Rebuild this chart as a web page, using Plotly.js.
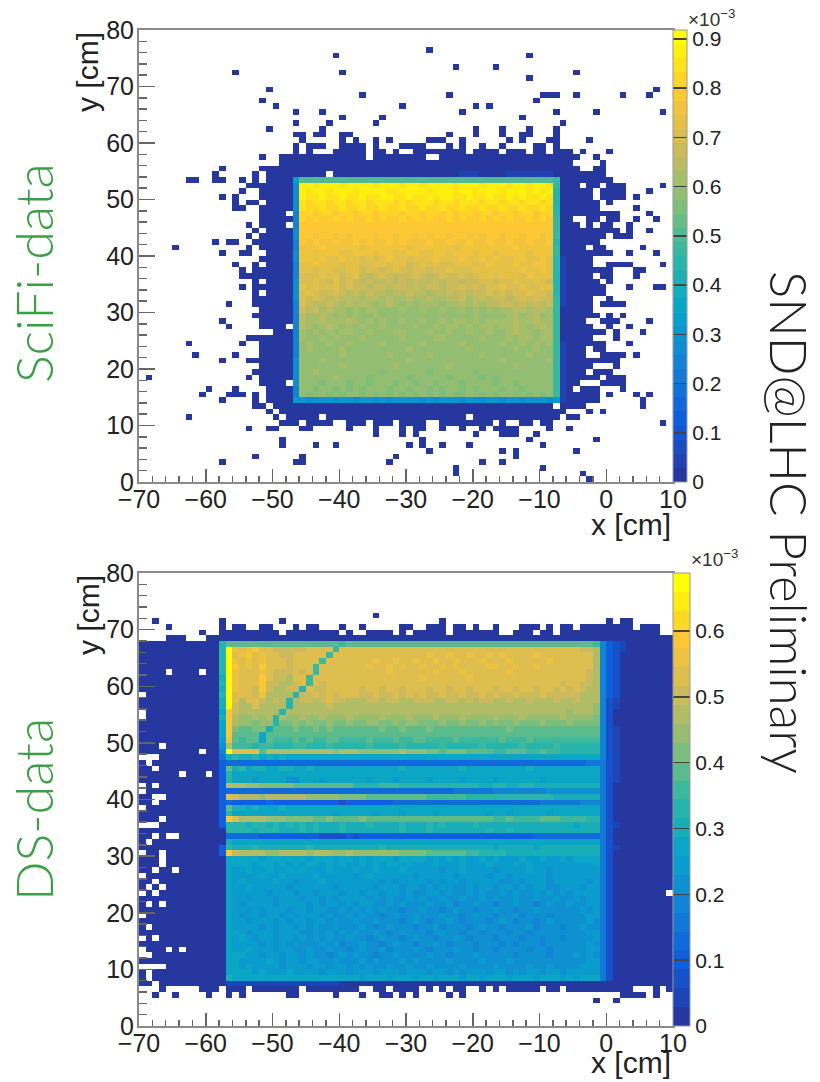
<!DOCTYPE html>
<html><head><meta charset="utf-8">
<script src="https://cdn.plot.ly/plotly-3.0.1.min.js"></script>
<style>html,body{margin:0;padding:0;background:#fff}#plot{width:820px;height:1082px}</style>
</head><body><div id="plot"></div>
<script>
// ---------- values ----------
const xTickValues=[-70,-60,-50,-40,-30,-20,-10,0,10];
const yTickValues=[0,10,20,30,40,50,60,70,80];
const scifiMax=0.918, dsMax=0.688;          // colour-bar tops (x10^-3)
const lowCount=0.01;                        // the lowest, dark blue, occupied bins
const scifiStep=0.025, dsStep=0.02;         // value of one base-36 code in the rows below

// SciFi: occupied low bins, one entry per row of bins from y=80 downward, as column numbers (0 = x -70..-69)
const scifiLow=["","","","43","29 58","","47 53","14 30 65","58","","19 77","33 46 60-62 65 72 76","18 59","20 39 50 52",
"23 27 48 62 68 78","30 36 57","23 28 35 63","19 27 50 54 58 62","23-24 26-27 30-31 46 50 54 57-58 62",
"24 30 32 35 37 43-45 48 55 57 61-62 67","23 25-27 30-33 35 39-42 46 48 51 54 59-60 62",
"23 25 29-33 35-36 38 41-48 50-53 55-57 59-60 62-64 66 70","18 21-33 35-42 45-65 68","21-64 69","12 18-65 68-69",
"11 17 19-27 29-69","7-8 11-12 15 17 19-70","16-65 67-68 70-72 78","15 18-67 69-72 76","12 14 18-67 69-72 74",
"14 16-17 19-68 70","14-15 18-68 74","18-21 23-71 76","18-64 67-68 70-71 74 77","16 18-21 23-65 67 69-70 73",
"17 19-71 73 76","16 18-69 71-73","11 13-14 17-68","5 16 18-66 68-69 75","12 15-16 19-70 73 77","18-67",
"14 17 19-67 70-73 78","15 17-70 74-75","15-67 69-70 74","17 19-68 70","15 17-69 73 77-78","17 19-69","17-67 70",
"13 17-67 69-72","18-67","17-68 70 72","12 18-66 69-71 76","13 18-21 23-67 70 73","20-69 71 75","16-67 71",
"7 15 18-69 73","18-66 68-69","8 14 18-66 69-72 74","12 16-71","18-67 71","17-66 68-70","1 16 18-68 70-72",
"18-21 23-65 69-72","10 14 19-64 66-68 72","9 13-15 17 19-68 70 74 76","12 17 19-68 75","17-18 20-61 63-66 75",
"19 21-63 67 69","7 20 22-26 28-48 50-62 64-65","21-23 25-28 31-33 35-37 39-42 45-52 54 57-58 60-61 78",
"16 19-20 24-25 31 35 39 41-42 45 48 51 53-56 61 64","35 39 41 50 54-56 59","21 42 58 68","21 26 29 40 42 45 49 60",
"43 54 56 65","17 24 38 56","12 23-24 37 51 54","47 60","47 66","67"];
// SciFi: slightly lighter blue bins hugging the box (row:columns)
const scifiHalo=["25:48-50","25:55-61","40:63","41:63","42:63","43:63","44:63","45:63","46:63","47:63","48:63",
"55:63","56:63","57:63","58:63","59:63","60:63","61:63","62:63","63:63","64:63","65:63"];
// SciFi: the detector box, rows 26..65 from the top, columns 23..62
const scifiBox=[
"dkkkkkkkkk kkkkkkkkkk kkkkkkkkkk kkkkkkkkkj","bzzyzzzyzz zzyzzzyzzy zzzzyzzzyz zzyzzyzzyj","bzyzzyzzzy zzzzyyzzzz yzzzyzzyzz zyzzzyzyzi",
"bzyyzyyzyy zyyzzyyzyy zyzzyyzyyz yyzyzyyzyi","byxyyxyyxy yxyyyxyxyy yxyyxyyyxy yxyyxyyxyi","byxxyxxyxx yxxyxxyxxy xxyxxyxxyx xyxxyxxyxi",
"axxwxxwxxw xxwxxxwxxw xxwxwxxwxx wxxwxxwxxi","axwxwwxwxw wxwxwwxwxw xwwxwxwwxw xwxwwxwxwj","awwvwwvwwv wwwvwvwwvw wvwwvwwvwv wwvwwvwwvj",
"bvwvvwvvwv vwvwvvwvvw vvwvwvvwvv wvvwvwvwvj","bvvuvvuvuv vvuvvuvvuv uvvuvvuvuv vuvvuvvuvj","avuvuuvuuv uvuuvuvuuu vuuvuuvuuv uuvuuvuuvi",
"auuuvuuuuu tuuuuuutuu uuuutuuuuu uuuvuuuuuj","buutuuuttu uutuuttuut tuutuuutuu tuuuutuuuj","buututtutt ststuttstt tutttuttut uttuuttuti",
"attutttstt ssttsttrst stsstttstu tttuttuuti","attsttsstt rssrstsrss rsstsssttt ttttuttuti","assststrst rqrsrqrrsr qrsrrsrstt stttsuttti",
"bsstsrtrsr qrqqrqrqrq qrqrrqrrss rsstsstsri",
"btstsstrsr rqrrqrrqrq rrqrrsrsrs stsstsstti","bstsrrsrqr qrqqpqqrqq pqqrqrqrrs rsrsstssri","bsrsrqrqqq pqqpqppqpp qppqqrpqrq rrqrsrsrrj",
"asrqqrqpqp qpopqpopop ppoppqpqpq qrrqrqrqrj","arqrpqppop oppooopoop oopoopopop oppqqpqqpj","aqppqpopop oopoonooon onoonoopoo oopqopqopj",
"aqppqpppqp opopoopoop oopoppopop pppqppqppj","aqpopqpopo poopoooopo opoppopopp oppqpopqpj","apopopoppo opooopp ooo poopoopoop oopqppoppj",
"apoopopooo poonoopooo oppoonoopo oopoppoppj","aopoopoopo onopoonoop oonoopoono opoopopopj","aopononpon oonooonpon ooonoopono onopoopooj",
"aonoonopoo nonopnnono pnonoonopo oonoopoooj","boonpnoono onnonoopon nonoonooon opoonooopj","bonononpon onnonpnonn onopnonoon oonponoooj",
"bonponnono nonmnonnon mnonnonmno nononoonoj","bnononpnon nmnononmnn onomnonomn mnonononoj","bnonmnonmn omnnomnomn nmnonmnonn mnomnonnnj",
"annmnomnmn mnonmnnmon mnmnomnmnn omnnmnnonj","anmnnmnmno mnmnmomnmn mnmnmmnomn mnnmomnmnj",
"ccbcccbccb ccbcbccccb cbcccbccbc cbccbcccbc"];

// DS: low bins outside the solid block (row:columns)
const dsLow=["7:35","8:2 12 21 45 70 72-73",
"9:4 12 14-15 18-19 23 25-26 30 33 39-40 43-45 47-48 50 53 57-59 61 63-64 66-73 75-77",
"10:9 12-20 22-29 31 34-37 39 41-45 47-53 56-58 60-61 63-77","11:4-6 10-79","72:0-1 3-79",
"73:3 9-11 13-15 17-23 25-32 35-36 38-41 43 45 47-48 51 53 55-59 61-62 64-73 77 79",
"74:2 5 10 13 15 22-23 29 33 36-37 39 41 46 48 72-75 77","75:68 71"];
// DS: empty bins inside the solid block, rows 12..71 (row:columns)
const dsHoles=["17:4 9","21:0","24:0","25:0","30:3","31:9","32:0-2","33:1","34:2","35:6 10","37:0 2","38:0","39:2-3","40:2","41:0",
"43:3","44:0-2","46:2 4-5","47:1","49:0 3","50:3","51:3","52:2 5","53:0","54:2","55:1 3","56:0 2 79","58:1 3","60:0","62:1",
"64:0 2","66:0 4 6","67:0-1","69:0-3","70:1","71:1"];
// DS: slightly lighter blue bins under the box
const dsHalo=["72:13-29"];
// DS: the box, rows 12..71 from the top, columns 13..68
const dsBox=[
"kkjkkjkkjk jkkjjjkijj jjkkjkkjjk kjkjjkkjkk jkjjkkjkkj kjjkji","ysrstrqppp ppqqrqiqqq qqqrqqrqqq rqrqrrrqqr qqrqrqqqrq qqqppo",
"yrstrsqqpp qqrqqiqrrq rqrrrqrrqr srrsrrsrrs rsrqrrsrqr rqrrqo","zsrsrsqqqp qrqriqrrqq rrsrrsrrsr rsrrsrrrsr rrsrrqrrsr qrrqro",
"ztrsrtqqqp qqqiqrqrrq rsrrsrsrrs rrsrsrrrrs srrsrrsrrr rqrrqo","zsrrqsqppp qpqiqqrqqr rqrrsrrrrr rsrrrsrrrr qrsrrrqrrq rqqrpn",
"zsrrqtqppo qqiqqrqqrq qrrqrrqrrs rrqrrrsrqr rqrqrrqrqr qqrqpn","zsqrqtppoo pqiqpqqrqq qrqqrqqqrq qrqqrrqqqr qqrqqrqqqq pqqppn",
"ysqqptpoop phqppqqqqq pqqpqqpqqq pqqpqqpqqq pqqpqqpqqp qpqpon","yrqqpsoonn hppqpqpqqq ppqppqpqpq ppqppqppqp qppqpppqpp pppoon",
"zqoqrpopnh oppopqppoo oppoppoopp pooppopopp oopoopooop oopoon","ypooqnoonh noonoponoo onoonoonoo ooonoonooo noonooonon ooonnm",
"upnoonnnhn nonnoonnnn nnonnnnonn nnnnonnnon nnonnnnnnn nmnnnm","tommnmngnm mnmmnmmmnm mmmnmmmnmm mnmmmnmmmm nmmmnmmmmm nmmmml",
"unmmlmmgll mlmllmllml lmmllmlmml llmllmllml mllmlllmll lmllll","tlkkllfkkk lkklklkkkk kkklkklkkk lkkkkkkkkk kklkkkkkkk kkkkkk",
"tkjkjejjjj jjkjjjjjjj jkjjjjkjjj jjjjkjjjjj jkjjjjjkjj jjjjjj","sjijjejiii jijiijjiii ijiiijiijj iiiijiiiii ijiiijiiii iiiiii",
"oiiihiihhh iihhhihhhh hihhhhihhh hhihhhhhih hhhhihhhhi hhhhhh","zqqqqkoooo ooonnnmnnn mmmmmmnmmm llklllkkjj iijjjiijii hhhhhh",
"fgffgefefe eeeeeededd eededdeeed dddeedddde deedddeeed dddddd","7767776667 6667666766 6666766666 6676666666 7766766667 777788",
"kfgeffeeff eefeeeeede eeeeeefeee eeeeefeeee eeeeefeeee eeeeee","heeeedddee eddeddeded eddeedddee ddddedddde ddddedddde dddddd",
"gdddcddddb bdddcddddd dcdddcdddd cddddcdddd cddddddcdd dddddd","onnmmlllll kkkkkkkjjh hhhiiihhhh hhgghhhgff ggffggffff ffffff",
"7676677666 6666666766 6776777777 7777888888 999aaaaabb bbbbbb","rpoonmnnno onmmmmmlll lkkkkkjjjj iiiiiihhhh ghhggggggf ffffff",
"6555556555 5555555455 5555566666 6666666666 7777777888 888999","kffefeeefe eeeeedeede edeeeedeee eddeedeeed edddeedddd dddddd",
"hddededded dddeddcddd ddcdddcddd dcdddddddc ddcdddddcd dddddd","uronnnmmml lllkklkkkk lkkkjjkkkj jjjjjjkkjj iijiiiijjj iiiihh",
"hggfggfgfg fgfgfffgff fgffffgfff gfgffffgff ffffffffff ffefff","ggggfgggff fgfgfffgff ffffffgfff gffffffffg ffgfffffff ffffff",
"6666655555 5555444454 5555555555 5555555555 5555556666 666667","fedeedeeee eedeeeedee edeeeeedee eeeeeeeeee edeeeeeede eeeeee",
"hfffgfffff ffgfffffff fffgffffff ffffffffff efffffefff ffffff","tpooonmmnn nnmnnnmmnm mmmmmmllll kkjkjjiihh ggffffffff ffffff",
"eddddcdddd ddcdddcddc dcdddcdddd cdcdcdccdc dcccdccdcc dcdddd","ededcddcdc dcddcdcdcc dcdcddcdcc cdcccdcccd cccdcdcccc cccccd",
"dccdccdccd cdcccdcccd ccdcccdccc ccbccdcccc bccccdccbc cccccc","dccccdccdc cccdcccccb cdccccccbc ccccbccccb ccbcccccbc cccccc",
"dcdccccdcc bcccdccccc cccbcbcccc bcbccbcccc cbbcbcccbc ccccbc","dccdcccccb ccccccbccc ccbcccbccb cbccbbcbcc bccbcbccbb cccbcc",
"dcccccbccc bccbcccbcc bccbccbcbb ccbcbbcbcb bcbcbbcbcb cbcccc","dccbcccbcc cbccbcbccc cbcbcbbcbc bbcbbcbbcb cbbcbbcbbc bbcbcc",
"dcbccccbcc ccbcbccbcb ccbbcbcbbb cbbcabbcbb abbcbbabcb bcbbcc","dccbcbcccb ccbccbbcbc bcbcbbabbc bbabcbbabb cbbabbcbbb bbbcbc",
"dcbccbccbc bcccbcbbcb cbbabcbbcb bbcbbabcbb abbcabbbab bbbbcc","dccbcccbcb ccbccbcbbc bbcbbbabcb abbcbabbba bcbabbabcb bbbbcb",
"dccccbcbcc bcbcbbcbbb cbabcbbbab bcabbbabcb babbbcabbb abbcbb","ddcbcccbcc cbbcbcbcbc bbcbabcbbb abcbbabbab bbabbabbbb bbbbcc",
"dcdcbccbcc bcbcbcbbcb babcbbabcb babbcbabbb abbbabbabb abbbbc","dccccbcbcb cbbbcbcabb cbbabcbbab bcbabbbabb bababbbabb bbbbcb",
"eccdcccbcc bbcbbcbbab cbbcabbbcb abbbcbbabb abbbbabbab bbbbcc","dddccbccbc cbcbbabcbc bbabbcbbbb cbbabbbcbb bbbabbbbab bbcbcb",
"ddccccdcbc cbccbbcbbb cbcbbbcbcb bbbcbbbbcb bbcbbbbbbb bbbbcc","edcdccccbc ccbccbccbc bcbbcbbcbb cbbbbcbbbb cbbbbcbbcb bbbccc",
"edddcdcccd ccccbcccbc ccbcccbccc bccbcbcccb ccbcbccbcc bccccc","feeedededd dedddddddd cdddcdddcd dcdddcddcd ddcdddcddd cdcddd"];
// DS: single columns at the box edges, rows 12..71 from the top ("0" = stays dark blue)
const dsColumn12="ggggggfgfgf fefeddcba 8 5 55555555 555 000 55 0000000000000000000000";
const dsColumn69="9999999999 9999999999 9888888888 8888888888 8888888888 8888888888";
const dsColumn70="5555555555 4444444444 4444444444 4444444444 4444444444 4444444444";
const dsColumn71="3333333333 22 000 222 22 22222 0000000 2 000 2 00000000000000000000000";
const dsColumn72="22 0000000000000000000000000000000000000000000000000000000000";

// colour stops of the palette
const paletteStops=[[38,56,159],[15,92,221],[20,128,214],[6,164,202],[46,183,164],[135,191,119],[209,187,89],[254,200,50],[255,255,0]];
const scifiBands=32, dsBands=24;

// ---------- building the grids ----------
const cols=s=>{const o=[];s.split(' ').filter(Boolean).forEach(t=>{const [a,b]=t.split('-').map(Number);for(let c=a;c<=(b===undefined?a:b);c++)o.push(c);});return o;};
const blank=()=>Array.from({length:80},()=>Array(80).fill(null));
const setCell=(z,r,c,v)=>{if(r>=0&&r<80&&c>=0&&c<80)z[79-r][c]=v;};
const clean=(s,n)=>{s=s.replace(/ /g,'');while(s.length<n)s+=s[s.length-1];return s.slice(0,n);};
const code=ch=>parseInt(ch,36);
const applyBox=(z,rows,r0,c0,w,step)=>rows.forEach((s,i)=>{const t=clean(s,w);for(let k=0;k<w;k++)setCell(z,r0+i,c0+k,code(t[k])*step);});
const applyCol=(z,s,c,step)=>{const t=clean(s,60);for(let i=0;i<60;i++){const d=code(t[i]);if(d>0)setCell(z,12+i,c,d*step);}};
const applyList=(z,list,v)=>list.forEach(e=>{const [r,s]=e.split(':');cols(s).forEach(c=>setCell(z,+r,c,v));});

const zScifi=blank();
scifiLow.forEach((s,r)=>cols(s).forEach(c=>setCell(zScifi,r,c,lowCount)));
applyList(zScifi,scifiHalo,0.05);
applyBox(zScifi,scifiBox,26,23,40,scifiStep);

const zDs=blank();
for(let r=12;r<=71;r++)for(let c=0;c<80;c++)setCell(zDs,r,c,lowCount);
applyList(zDs,dsLow,lowCount);
applyList(zDs,dsHoles,null);
applyList(zDs,dsHalo,0.04);
applyBox(zDs,dsBox,12,13,56,dsStep);
applyCol(zDs,dsColumn12,12,dsStep);applyCol(zDs,dsColumn69,69,dsStep);applyCol(zDs,dsColumn70,70,dsStep);
applyCol(zDs,dsColumn71,71,dsStep);applyCol(zDs,dsColumn72,72,dsStep);

const binCentres=Array.from({length:80},(_,i)=>i+0.5);
const xCentres=binCentres.map(v=>v-70);

const colorAt=t=>{const p=t*(paletteStops.length-1),i=Math.min(Math.floor(p),paletteStops.length-2),f=p-i;
  const c=paletteStops[i].map((v,k)=>Math.round(v+(paletteStops[i+1][k]-v)*f));return `rgb(${c.join(',')})`;};
const bands=n=>{const o=[];for(let i=0;i<n;i++){const c=colorAt(i/(n-1));o.push([i/n,c],[(i+1)/n,c]);}return o;};

// ---------- layout in window pixels ----------
const W=820,H=1082,L=139,R=673;
const px=v=>v/W, py=v=>1-v/H;
const panel=[{top:30,bottom:482},{top:573,bottom:1026}];
const tickFont={family:'"Liberation Sans",Arial,sans-serif',size:25,color:'#222'};
const cbFont={family:'"Liberation Sans",Arial,sans-serif',size:21,color:'#222'};
const axisBase={showgrid:false,zeroline:false,showline:true,mirror:true,linecolor:'#8a8a8a',linewidth:2,
  ticks:'inside',tickcolor:'#666',tickwidth:1.5,tickfont:tickFont,tickmode:'array',
  minor:{ticks:'inside',dtick:2,tick0:0,tickcolor:'#666',tickwidth:1.5,showgrid:false}};
const xAxis=d=>Object.assign({},axisBase,{domain:[px(L),px(R)],range:[-70,10],tickvals:xTickValues,ticklen:13,ticklabelstandoff:-6,
  minor:Object.assign({},axisBase.minor,{ticklen:6})});
const yAxis=p=>Object.assign({},axisBase,{domain:[py(p.bottom),py(p.top)],range:[0,80],tickvals:yTickValues,ticklen:16,ticklabelstandoff:-2,
  minor:Object.assign({},axisBase.minor,{ticklen:8})});
const colorbar=(p,w)=>({x:px(R),xanchor:'left',xpad:0,y:py(p.bottom),yanchor:'bottom',ypad:0,len:(p.bottom-p.top)/H,lenmode:'fraction',
  thickness:w,thicknessmode:'pixels',tickmode:'linear',tick0:0,dtick:0.1,ticks:'inside',ticklen:w,tickwidth:1.5,tickcolor:'#444',
  outlinecolor:'#999',outlinewidth:1,tickfont:cbFont});

const traces=[
 {type:'heatmap',x:xCentres,y:binCentres,z:zScifi,zmin:0,zmax:scifiMax,colorscale:bands(scifiBands),zsmooth:false,hoverongaps:false,xaxis:'x',yaxis:'y',colorbar:colorbar(panel[0],14)},
 {type:'heatmap',x:xCentres,y:binCentres,z:zDs,zmin:0,zmax:dsMax,colorscale:bands(dsBands),zsmooth:false,hoverongaps:false,xaxis:'x2',yaxis:'y2',colorbar:colorbar(panel[1],17)}
];
const note=(text,x,y,o)=>Object.assign({text,xref:'paper',yref:'paper',x:px(x),y:py(y),showarrow:false,xanchor:'center',yanchor:'middle',borderpad:0},o);
const axisTitle={family:'"Liberation Sans",Arial,sans-serif',size:30,color:'#222'};
const sideFont={family:'Lato,"Noto Sans",sans-serif',size:52,color:'#3c9f46',weight:300};
const annotations=[
 note('y [cm]',88,72,{textangle:-90,font:axisTitle}),
 note('y [cm]',88,615,{textangle:-90,font:axisTitle}),
 note('x [cm]',631,524,{font:axisTitle}),
 note('x [cm]',631,1062,{font:axisTitle}),
 note('×10<sup>−3</sup>',711,18,{font:{family:'"Liberation Sans",Arial,sans-serif',size:19,color:'#333'}}),
 note('×10<sup>−3</sup>',714,558,{font:{family:'"Liberation Sans",Arial,sans-serif',size:19,color:'#333'}}),
 note('SciFi-data',33,273,{textangle:-90,font:sideFont}),
 note('DS-data',33,810,{textangle:-90,font:sideFont}),
 note('SND@LHC Preliminary',790,522,{textangle:90,font:Object.assign({},sideFont,{size:51,color:'#222'})})
];
const layout={width:W,height:H,margin:{l:0,r:0,t:0,b:0,pad:0},paper_bgcolor:'#fff',plot_bgcolor:'#fff',showlegend:false,
  xaxis:xAxis(),yaxis:yAxis(panel[0]),
  xaxis2:Object.assign(xAxis(),{anchor:'y2'}),yaxis2:Object.assign(yAxis(panel[1]),{anchor:'x2'}),annotations};
layout.xaxis.anchor='y';layout.yaxis.anchor='x';
Plotly.newPlot('plot',traces,layout,{displayModeBar:false,responsive:false,staticPlot:true});
</script></body></html>
